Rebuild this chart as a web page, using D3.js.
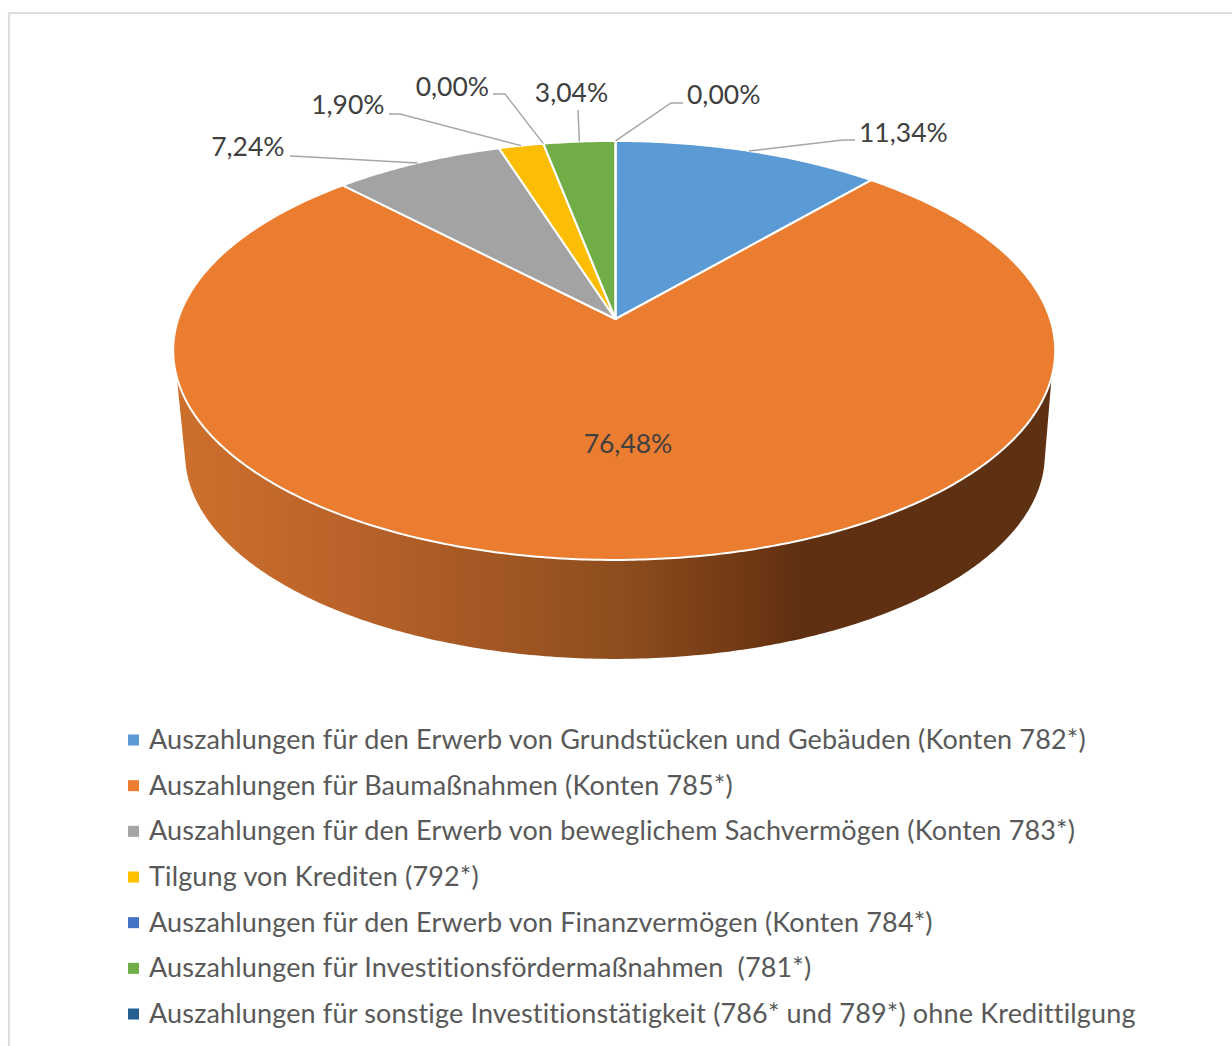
<!DOCTYPE html>
<html>
<head>
<meta charset="utf-8">
<script src="https://cdn.jsdelivr.net/npm/d3@7"></script>
<style>
html,body{margin:0;padding:0;background:#fff;overflow:hidden}
svg{display:block}
text{font-family:Lato,"Open Sans",sans-serif}
</style>
</head>
<body>
<svg id="chart" width="1232" height="1046"></svg>
<script>
// ---- data ----
const categories = [
  "Auszahlungen für den Erwerb von Grundstücken und Gebäuden (Konten 782*)",
  "Auszahlungen für Baumaßnahmen (Konten 785*)",
  "Auszahlungen für den Erwerb von beweglichem Sachvermögen (Konten 783*)",
  "Tilgung von Krediten (792*)",
  "Auszahlungen für den Erwerb von Finanzvermögen (Konten 784*)",
  "Auszahlungen für Investitionsfördermaßnahmen  (781*)",
  "Auszahlungen für sonstige Investitionstätigkeit (786* und 789*) ohne Kredittilgung"
];
const values = [11.34, 76.48, 7.24, 1.90, 0.00, 3.04, 0.00];
const colors = ["#5B9BD5", "#EB7D31", "#A3A3A3", "#FBBE04", "#4472C4", "#70AD47", "#255E91"];
const legendColors = ["#5B9BD5", "#ED7D31", "#A5A5A5", "#FFC000", "#4472C4", "#70AD47", "#255E91"];

// ---- label layout ----
const labelLayout = [
  {x: 859, y: 142, ex: 843, ey: 140, lx: 855, ly: 140, anchor: "start"},
  {x: 628, y: 453, anchor: "middle", inside: true},
  {x: 284.5, y: 156, ex: 301, ey: 156.5, lx: 290, ly: 156, anchor: "end"},
  {x: 384.5, y: 114, ex: 400, ey: 114, lx: 389, ly: 114, anchor: "end"},
  {x: 489, y: 96,  ex: 505, ey: 94,  lx: 493, ly: 94,  anchor: "end"},
  {x: 571.5, y: 102, ex: 578, ey: 110, lx: 578, ly: 110, anchor: "middle"},
  {x: 687, y: 104, ex: 671, ey: 103, lx: 683, ly: 103, anchor: "start"}
];

const fmt = v => v.toFixed(2).replace(".", ",") + "%";

const svg = d3.select("#chart");
const defs = svg.append("defs");

// perspective projection of the unit disc; top face and bottom face
const persp = 0.15;
const rotation = 0.2 * Math.PI / 180;
const apex = [615.5, 319];
const topFace = {cx: 614.2, cy: 319, a: 436, b: 204.8};
const botFace = {cx: 615, cy: 423.6, a: 425, b: 200};
function project(face, ang) {           // ang clockwise from 12 o'clock
  const u = Math.sin(ang), v = Math.cos(ang), w = 1 + persp * v;
  return [face.cx + face.a * u / w, face.cy - face.b * v / w];
}
const line = d3.line();
const sampleAngles = (a0, a1) => {
  const n = Math.max(2, Math.ceil(Math.abs(a1 - a0) / 0.01));
  return d3.range(n + 1).map(i => a0 + (a1 - a0) * i / n);
};

const pie = d3.pie().sort(null).value(d => d).startAngle(rotation).endAngle(2 * Math.PI + rotation);
const arcs = pie(values);

// chart frame
svg.append("path").attr("d", "M9,1046V13H1232").attr("fill", "none")
  .attr("stroke", "#dedede").attr("stroke-width", 2.2);

// side wall
const grad = defs.append("linearGradient").attr("id", "wall")
  .attr("gradientUnits", "userSpaceOnUse")
  .attr("x1", 175).attr("x2", 1054).attr("y1", 0).attr("y2", 0);
[[0, "#CE702C"], [0.2, "#B9622A"], [0.5, "#8F4E1E"], [0.68, "#6A3413"], [0.705, "#5F3011"], [1, "#5E3113"]]
  .forEach(([o, c]) => grad.append("stop").attr("offset", o).attr("stop-color", c));

const topL = 2 * Math.PI - Math.acos(-0.2717), topR = Math.acos(-0.2717);
const botL = 2 * Math.PI - Math.acos(-0.2), botR = Math.acos(-0.2);
const wallPts = sampleAngles(topR, topL).map(a => project(topFace, a))
  .concat(sampleAngles(botL, botR).map(a => project(botFace, a)));
svg.append("path").attr("d", line(wallPts) + "Z").attr("fill", "url(#wall)");

// top-face slices
svg.append("g").selectAll("path").data(arcs).join("path")
  .attr("d", d => line([apex].concat(
        sampleAngles(d.startAngle, d.endAngle).map(a => project(topFace, a)))) + "Z")
  .attr("fill", (d, i) => colors[i])
  .attr("stroke", "#fff").attr("stroke-width", 2).attr("stroke-linejoin", "round");

// leader lines
const leaders = arcs.map((d, i) => ({d, l: labelLayout[i]})).filter(o => !o.l.inside);
svg.append("g").selectAll("path").data(leaders).join("path")
  .attr("d", o => {
    const p = project(topFace, (o.d.startAngle + o.d.endAngle) / 2);
    return line([p, [o.l.ex, o.l.ey], [o.l.lx, o.l.ly]]);
  })
  .attr("fill", "none").attr("stroke", "#A6A6A6").attr("stroke-width", 1.5);

// data labels
svg.append("g").selectAll("text").data(values).join("text")
  .attr("x", (d, i) => labelLayout[i].x).attr("y", (d, i) => labelLayout[i].y)
  .attr("text-anchor", (d, i) => labelLayout[i].anchor)
  .attr("font-size", 26.5).attr("fill", "#404040")
  .text(fmt);

// legend
const legendY = d3.scalePoint().domain(d3.range(categories.length)).range([749, 1023]);
const legend = svg.append("g").selectAll("g").data(categories).join("g")
  .attr("transform", (d, i) => `translate(0,${legendY(i)})`);
legend.append("rect").attr("x", 128).attr("y", -14.5).attr("width", 11).attr("height", 11)
  .attr("fill", (d, i) => legendColors[i]);
legend.append("text").attr("x", 149).attr("y", 0)
  .attr("font-size", 27).attr("letter-spacing", 0.15).attr("fill", "#595959")
  .style("white-space", "pre").text(d => d);
</script>
</body>
</html>
